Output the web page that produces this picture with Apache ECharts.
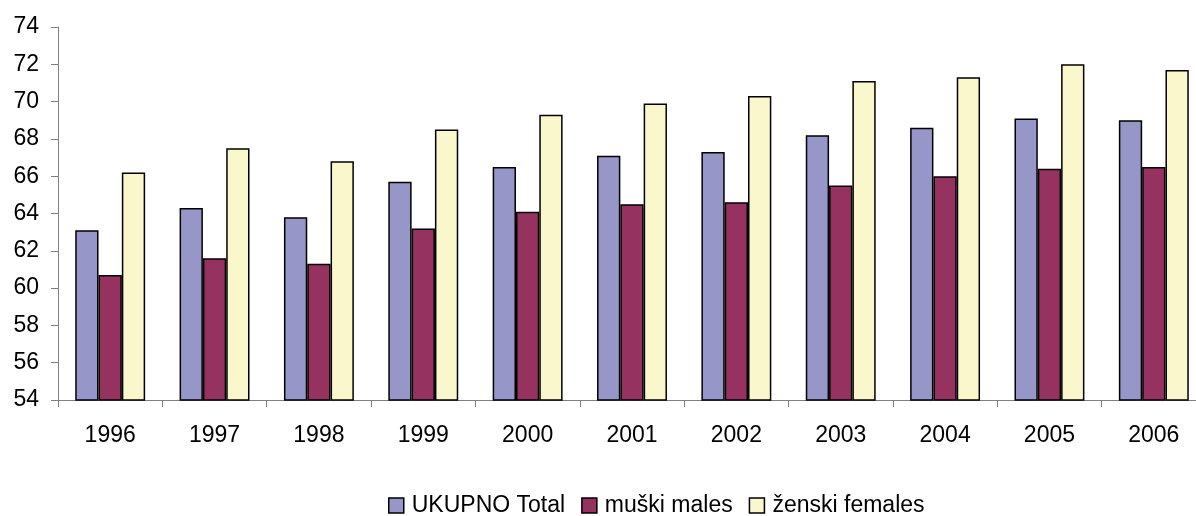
<!DOCTYPE html>
<html><head><meta charset="utf-8">
<script src="https://cdn.jsdelivr.net/npm/echarts@6/dist/echarts.min.js"></script>
<style>html,body{margin:0;padding:0;background:#fff}#c{width:1196px;height:516px}</style>
</head><body><div id="c"></div>
<script>
const categories = ['1996','1997','1998','1999','2000','2001','2002','2003','2004','2005','2006'];
const totalValues = [63.1,64.3,63.8,65.7,66.5,67.1,67.3,68.2,68.6,69.1,69.0];
const maleValues = [60.7,61.6,61.3,63.2,64.1,64.5,64.6,65.5,66.0,66.4,66.5];
const femaleValues = [66.2,67.5,66.8,68.5,69.3,69.9,70.3,71.1,71.3,72.0,71.7];
const seriesNames = ['UKUPNO Total','muški males','ženski females'];
const colors = ['#9696C8','#953260','#FAF7CC'];
const font = '"Liberation Sans", Arial, sans-serif';
const chart = echarts.init(document.getElementById('c'));
const mk = (name, data, color) => ({
  name, type: 'bar', data, barGap: '0%', barCategoryGap: '33%',
  itemStyle: { color, borderColor: '#000', borderWidth: 1.5 }
});
chart.setOption({
  animation: false,
  textStyle: { fontFamily: font },
  legend: {
    top: 494, left: 388, itemWidth: 15, itemHeight: 15, itemGap: 16,
    icon: 'rect', padding: 0,
    textStyle: { fontFamily: font, fontSize: 23, color: '#000', padding: [0,0,0,3] },
    itemStyle: { borderColor: '#000', borderWidth: 1.5 },
    data: seriesNames
  },
  grid: { left: 58, top: 27, width: 1148, height: 373, outerBoundsMode: 'none' },
  xAxis: {
    type: 'category', data: categories,
    axisLine: { lineStyle: { color: '#808080', width: 1 } },
    axisTick: { show: true, length: 7, lineStyle: { color: '#808080' } },
    axisLabel: { color: '#000', fontSize: 23, margin: 24, fontFamily: font }
  },
  yAxis: {
    type: 'value', min: 54, max: 74, interval: 2,
    splitLine: { show: false },
    axisLine: { show: true, lineStyle: { color: '#808080', width: 1 } },
    axisTick: { show: true, length: 7, lineStyle: { color: '#808080' } },
    axisLabel: { color: '#000', fontSize: 23, margin: 19, fontFamily: font }
  },
  series: [
    mk(seriesNames[0], totalValues, colors[0]),
    mk(seriesNames[1], maleValues, colors[1]),
    mk(seriesNames[2], femaleValues, colors[2])
  ]
});
</script></body></html>
